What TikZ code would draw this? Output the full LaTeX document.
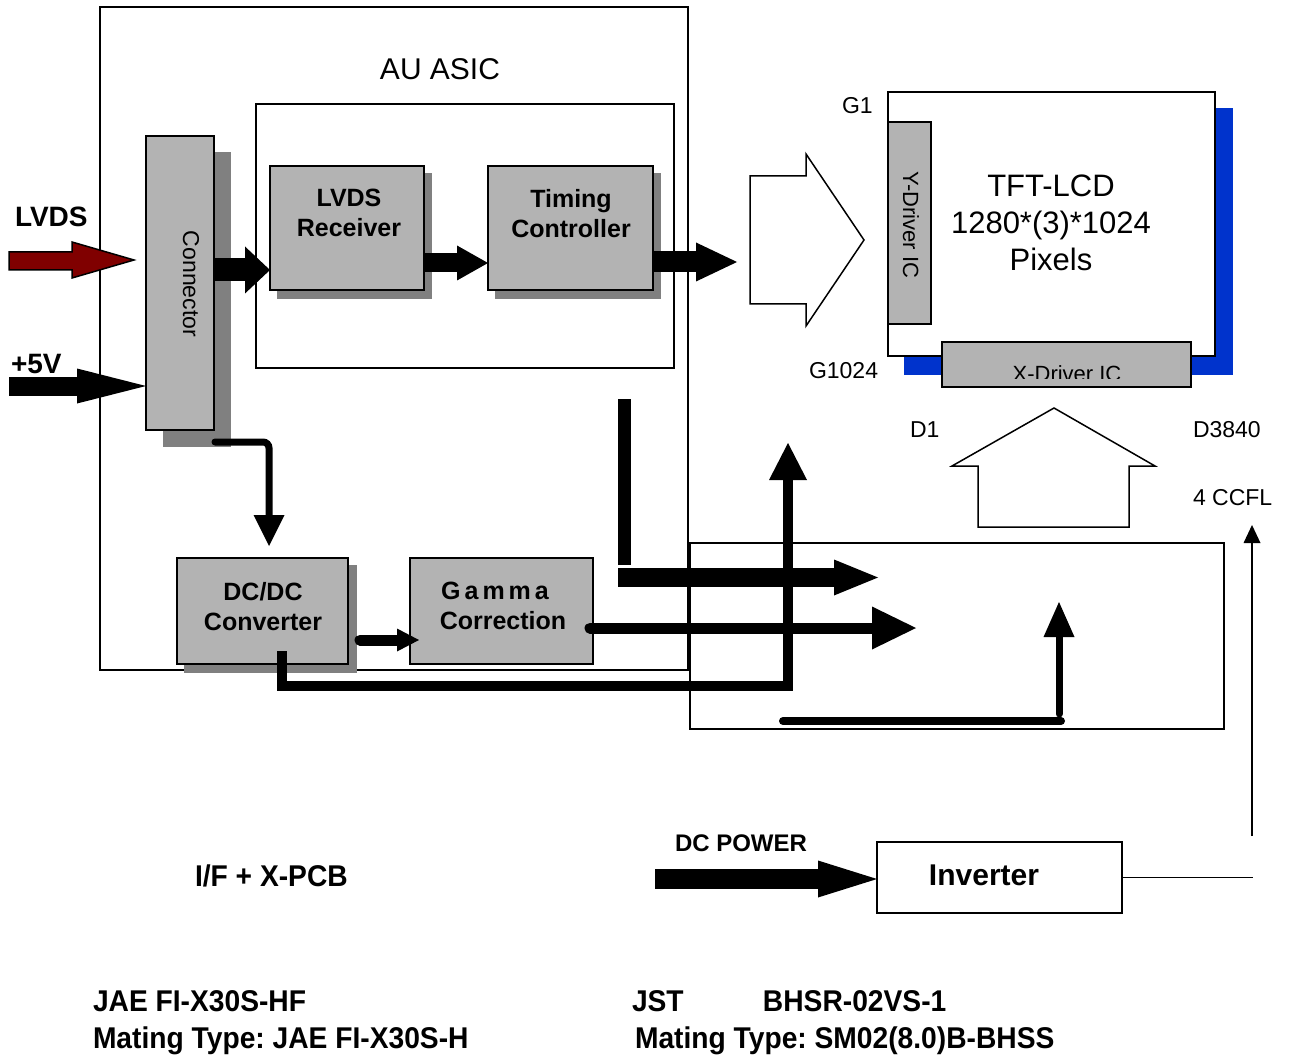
\documentclass[tikz,border=0pt]{standalone}
\usepackage{fontspec}
\setmainfont{Liberation Sans}
\newfontfamily\condfont[FakeStretch=0.94]{Liberation Sans Bold}
\usetikzlibrary{arrows.meta,calc}
\definecolor{boxgray}{RGB}{179,179,179}
\definecolor{shadowgray}{RGB}{128,128,128}
\definecolor{lcdblue}{RGB}{0,51,204}
\definecolor{lvdsred}{RGB}{128,0,0}
\frenchspacing
\tikzset{
  every node/.style={inner sep=0pt, outer sep=0pt},
  frame/.style={draw, line width=1.5pt, anchor=north west},
  gbox/.style={draw, line width=1.5pt, fill=boxgray, anchor=north west},
  blktext/.style={font=\fontsize{25}{30}\selectfont\bfseries, align=center, anchor=north},
  smalllab/.style={font=\fontsize{23}{28}\selectfont, anchor=base west},
  biglab/.style={font=\fontsize{28}{34}\selectfont\bfseries, anchor=base west},
  condlab/.style={font=\fontsize{30}{37}\selectfont\condfont, anchor=base west},
  hollow/.style={draw, line width=1.5pt, fill=white, line join=miter},
}
\begin{document}
\begin{tikzpicture}[x=1pt,y=-1pt]
\useasboundingbox (0,0) rectangle (1292,1056);

% ---------- AU ASIC frame ----------
\node[frame, minimum width=588pt, minimum height=663pt] (asic) at (100,7) {};
\node[font=\fontsize{30}{36}\selectfont, anchor=base] (asictitle) at (440,80) {AU ASIC};
\node[frame, minimum width=418pt, minimum height=264pt] (inner) at (256,104) {};

% ---------- grey blocks with shadows ----------
\node[gbox, minimum width=68pt, minimum height=294pt] (conn) at (146,136) {};
\fill[shadowgray] ($(conn.north west)+(17,16)$) rectangle ($(conn.south east)+(17,17)$);
\node[gbox, minimum width=68pt, minimum height=294pt] (connb) at (146,136) {};
\node[font=\fontsize{23}{28}\selectfont, rotate=-90] (conntext) at (191,284) {Connector};

\node[gbox, minimum width=154pt, minimum height=124pt] (rx) at (270,166) {};
\fill[shadowgray] ($(rx.north west)+(7,7)$) rectangle ($(rx.south east)+(8,9)$);
\node[gbox, minimum width=154pt, minimum height=124pt] (rxb) at (270,166) {};
\node[blktext] (rxtext) at (349,189) {LVDS\\Receiver};

\node[gbox, minimum width=165pt, minimum height=124pt] (tc) at (488,166) {};
\fill[shadowgray] ($(tc.north west)+(7,7)$) rectangle ($(tc.south east)+(8,9)$);
\node[gbox, minimum width=165pt, minimum height=124pt] (tcb) at (488,166) {};
\node[blktext] (tctext) at (571,189) {Timing\\Controller};

\node[gbox, minimum width=171pt, minimum height=106pt] (dcdc) at (177,558) {};
\fill[shadowgray] ($(dcdc.north west)+(7,7)$) rectangle ($(dcdc.south east)+(9,9)$);
\node[gbox, minimum width=171pt, minimum height=106pt] (dcdcb) at (177,558) {};
\node[blktext] (dcdctext) at (263,582) {DC/DC\\Converter};

\node[gbox, minimum width=183pt, minimum height=106pt] (gamma) at (410,558) {};
\node[blktext] (gammatext) at (503,582) {\hspace*{-16pt}{\addfontfeature{LetterSpace=16}Gamma}\\Correction};

% ---------- TFT-LCD ----------
\node[frame, minimum width=327pt, minimum height=264pt, draw=none] (tft) at (888,92) {};
\fill[lcdblue] ($(tft.north west)+(16,16)$) rectangle ($(tft.south east)+(18,19)$);
\node[frame, fill=white, minimum width=327pt, minimum height=264pt] (tftb) at (888,92) {};
\node[font=\fontsize{31}{37}\selectfont, align=center, anchor=north] (tfttext) at (1051,175) {TFT-LCD\\1280*(3)*1024\\Pixels};
\node[gbox, minimum width=43pt, minimum height=202pt] (ydrv) at (888,122) {};
\node[font=\fontsize{22}{26}\selectfont, rotate=-90] (ydrvtext) at (911,225) {Y-Driver IC};
\node[gbox, minimum width=249pt, minimum height=45pt] (xdrv) at (942,342) {};
\begin{scope}
  \clip (942,342) rectangle (1191,378);
  \node[font=\fontsize{22}{26}\selectfont, anchor=base] (xdrvtext) at (1067,381) {X-Driver IC};
\end{scope}
\node[smalllab] (g1) at (842,114) {G1};
\node[smalllab] (g1024) at (809,378) {G1024};
\node[smalllab] (d1) at (910,437) {D1};
\node[smalllab] (d3840) at (1193,437) {D3840};
\node[smalllab] (ccfl) at (1193,505) {4 CCFL};

% ---------- hollow arrows ----------
\draw[hollow] (750,176) -- (806,176) -- (806,154) -- (864,240) -- (806,326) -- (806,304) -- (750,304) -- cycle;
\draw[hollow] (978,527) -- (978,466) -- (952,466) -- (1054,408) -- (1155,466) -- (1129,466) -- (1129,527) -- cycle;

% ---------- bottom boxes ----------
\node[frame, minimum width=534pt, minimum height=186pt] (pcb) at (690,543) {};
\node[frame, minimum width=245pt, minimum height=71pt] (inv) at (877,842) {};
\node[font=\fontsize{30}{36}\selectfont\bfseries, anchor=base] (invtext) at (984,885) {Inverter};

% ---------- input labels and arrows ----------
\node[biglab] (lvdslab) at (15,227) {LVDS};
\node[biglab] (p5lab) at (11,373) {+5V};
\coordinate (lvdstip) at (134,260);
\draw[line width=1.5pt, fill=lvdsred, line join=miter] (9,252) -- (72,252) -- (72,242) -- (lvdstip) -- (72,278) -- (72,270) -- (9,270) -- cycle;
\coordinate (p5in) at (9,386);
\draw[line width=19pt, -{Triangle[length=69pt,width=35pt,line width=0pt]}] (p5in) -- (conn.west |- p5in);

% connector -> LVDS receiver
\coordinate (rxin) at ($(rx.south west)+(0,-20)$);
\draw[line width=23pt, -{Triangle[length=25pt,width=47pt,line width=0pt]}] (conn.east |- rxin) -- (rxin);
% LVDS receiver -> timing controller
\coordinate (tcin) at ($(tc.south west)+(0,-27)$);
\draw[line width=19pt, -{Triangle[length=31pt,width=35pt,line width=0pt]}] (rx.east |- tcin) -- (tcin);
% timing controller -> panel
\coordinate (lcdarr) at (737,262);
\draw[line width=21pt, -{Triangle[length=41pt,width=39pt,line width=0pt]}] (tc.east |- lcdarr) -- (lcdarr);

% connector -> DC/DC
\draw[line width=7pt, line cap=round, rounded corners=6pt, -{Triangle[length=31pt,width=31pt,line width=0pt]}]
  ($(conn.south east)+(1,12)$) -| ($(dcdc.north west)+(92,-12)$);
% DC/DC -> gamma
\draw[line width=11pt, line cap=round, -{Triangle[length=22pt,width=23pt,line width=0pt]}]
  ($(dcdc.south east)+(12,-24)$) -- ($(gamma.south west)+(9,-24)$);
% gamma -> PCB
\coordinate (pcbin2) at (916,628);
\draw[line width=11pt, line cap=round, -{Triangle[length=44pt,width=43pt,line width=0pt]}]
  ($(gamma.east)+(-3,17)$) -- (pcbin2);
% DC/DC -> up
\coordinate (d1arr) at (788,443);
\draw[line width=10pt, line join=miter, -{Triangle[length=37pt,width=38pt,line width=0pt]}]
  ($(dcdc.south)+(19.5,-13)$) |- ($(d1arr)+(0,243)$) -- (d1arr);
% timing bus to PCB
\fill (618,399) rectangle (631,565);
\coordinate (pcbin1) at (878,577.5);
\draw[line width=19pt, -{Triangle[length=44pt,width=36pt,line width=0pt]}] (618,577.5) -- (pcbin1);
% inside PCB
\draw[line width=8pt, line cap=round] (783,721) -- (1061,721);
\draw[line width=7pt, line cap=round, -{Triangle[length=35pt,width=31pt,line width=0pt]}] (1059,714) -- (1059,602);

% ---------- inverter ----------
\node[font=\fontsize{24}{29}\selectfont\bfseries, anchor=base west] (dclab) at (675,851) {DC POWER};
\coordinate (dcin) at (655,879);
\draw[line width=20pt, -{Triangle[length=59pt,width=37pt,line width=0pt]}] (dcin) -- (inv.west |- dcin);
\coordinate (invout) at (1253,877.5);
\draw[line width=1.5pt] (inv.east) -- (invout);
\coordinate (ccflbot) at (1252,836);
\coordinate (ccfltop) at (1252,525);
\draw[line width=2pt, -{Triangle[length=18pt,width=17pt,line width=0pt]}] (ccflbot) -- (ccfltop);

% ---------- bottom texts ----------
\node[condlab] (ifpcb) at (195,886) {I/F + X-PCB};
\node[condlab] (jae1) at (93,1011) {JAE FI-X30S-HF};
\node[condlab] (jae2) at (93,1048) {Mating Type: JAE FI-X30S-H};
\node[condlab] (jst1) at (632,1011) {\makebox[131pt][l]{JST}BHSR-02VS-1};
\node[condlab] (jst2) at (635,1048) {Mating Type: SM02(8.0)B-BHSS};
\end{tikzpicture}
\end{document}
